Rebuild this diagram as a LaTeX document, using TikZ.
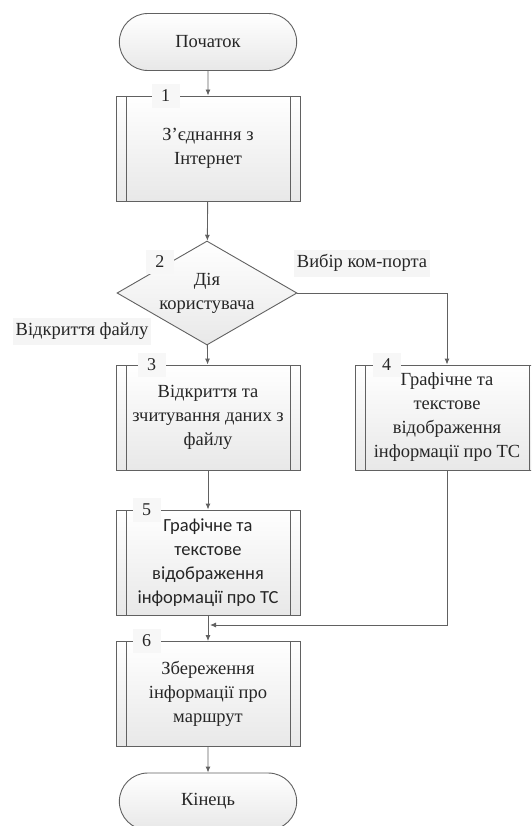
\documentclass[tikz,border=0pt]{standalone}
\usepackage{fontspec}
\setmainfont{Liberation Serif}
\newfontfamily\boxsans{Carlito}
\usetikzlibrary{arrows.meta, shapes.geometric, shapes.misc}

\tikzset{
    base/.style={draw=black!62, line width=0.9pt, text=black!85, align=center,
        font=\fontsize{18.5}{24}\selectfont},
    term/.style={base, rounded rectangle, minimum width=184pt, minimum height=57pt,
        top color=white, bottom color=black!9},
    proc/.style={base, rectangle, minimum width=184pt, minimum height=105pt, inner sep=2pt,
        top color=white, bottom color=black!9,
        path picture={
            \draw[black!62, line width=0.9pt]
                ([xshift=10pt]path picture bounding box.north west) -- ([xshift=10pt]path picture bounding box.south west)
                ([xshift=-10pt]path picture bounding box.north east) -- ([xshift=-10pt]path picture bounding box.south east);
        }},
    decide/.style={base, diamond, aspect=1.75, inner sep=0pt, minimum width=180pt, minimum height=104pt,
        top color=white, bottom color=black!9},
    numlbl/.style={fill=black!3, text=black!85, inner sep=0pt, minimum width=28pt, minimum height=24pt,
        font=\fontsize{18}{20}\selectfont},
    branch/.style={fill=black!4, text=black!85, inner sep=3pt, minimum height=27pt,
        font=\fontsize{18.5}{20}\selectfont},
    line/.style={draw=black!62, line width=0.9pt, -{Latex[length=6pt,width=5pt]}}
}

\begin{document}
\begin{tikzpicture}[x=1pt, y=-1pt]
\clip (0,0) rectangle (531,826);

% blocks
\node[term] (start) at (208,42) {Початок};
\node[proc] (b1) at (208,148.5) {З’єднання з\\Інтернет};
\node[decide] (d2) at (207,293) {Дія\\користувача};
\node[proc] (b3) at (208,417.5) {Відкриття та\\зчитування даних з\\файлу};
\node[proc] (b4) at (447,417.5) {Графічне та\\текстове\\відображення\\інформації про ТС};
\node[proc, font=\boxsans\fontsize{18.5}{24}\selectfont] (b5) at (208,562.5) {Графічне та\\текстове\\відображення\\інформації про ТС};
\node[proc] (b6) at (208,694) {Збереження\\інформації про\\маршрут};
\node[term] (stop) at (208,801.5) {Кінець};

% numbers
\node[numlbl] (n1) at ([xshift=50pt]b1.north west) {1};
\node[numlbl] (n2) at ([xshift=-2pt,yshift=5pt]d2.north west) {2};
\node[numlbl] (n3) at ([xshift=36pt]b3.north west) {3};
\node[numlbl] (n4) at ([xshift=32pt]b4.north west) {4};
\node[numlbl] (n5) at ([xshift=31pt]b5.north west) {5};
\node[numlbl] (n6) at ([xshift=31pt]b6.north west) {6};

% branch labels
\node[branch] (lcom) at (362,263) {Вибір ком-порта};
\node[branch] (lfile) at (82,331) {Відкриття файлу};

\coordinate (mrg) at (210,625);

% connectors
\draw[line] (start) -- (b1);
\draw[line] (b1) -- (d2);
\draw[line] (d2) -- (b3);
\draw[line] (d2) -| (b4);
\draw[line] (b3) -- (b5);
\draw[line] (b5) -- (b6);
\draw[line] (b4) |- (mrg);
\draw[line] (b6) -- (stop);

\end{tikzpicture}
\end{document}
